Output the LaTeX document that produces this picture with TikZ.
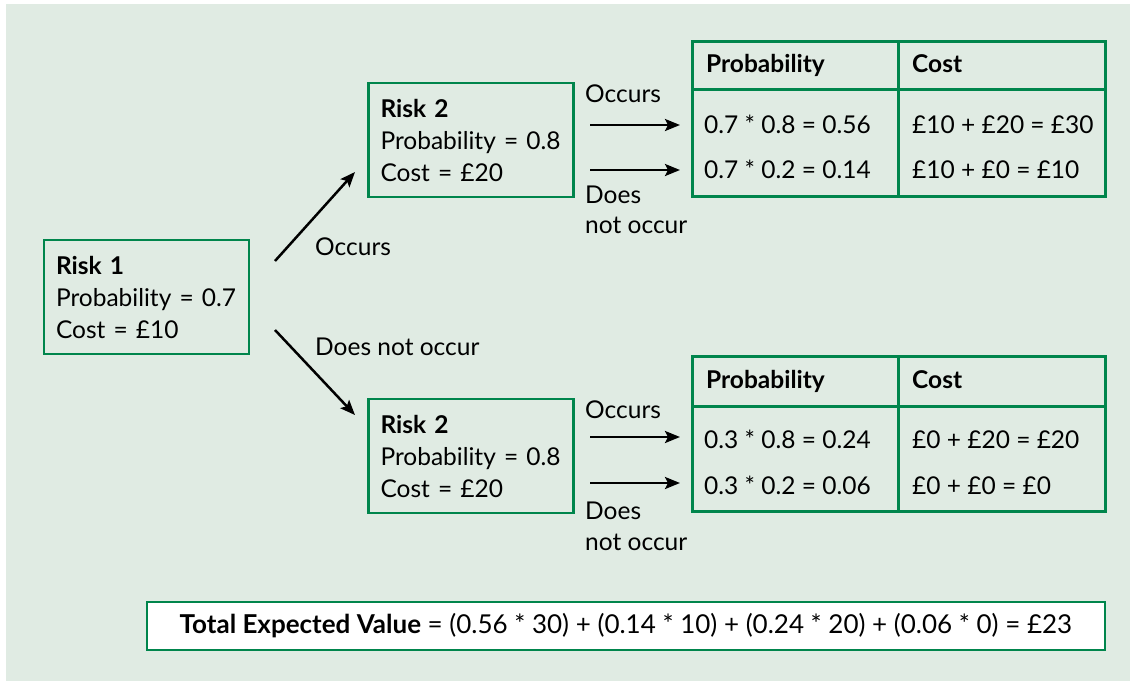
\documentclass[tikz,border=0pt]{standalone}
\usepackage{fontspec}
\setmainfont{Lato}
\usetikzlibrary{arrows.meta}
\definecolor{bgc}{RGB}{224,235,227}
\definecolor{grn}{RGB}{0,133,76}
\begin{document}
\begin{tikzpicture}[x=1pt,y=-1pt,
  txt/.style={font=\fontsize{24.5}{32}\selectfont, inner sep=0pt},
  riskbox/.style={draw=grn, line width=2.5pt, minimum width=205pt, minimum height=114pt,
    text width=181pt, inner xsep=12pt, inner ysep=0pt, align=left,
    font=\fontsize{24.5}{32}\selectfont},
  cell/.style={draw=grn, line width=2.5pt, inner sep=0pt, anchor=north west},
  arr/.style={line width=2.5pt, -{Stealth[length=15pt,width=12pt,inset=3pt]}},
  lbl/.style={txt, anchor=mid west}
]
\useasboundingbox (0,0) rectangle (1130,681);
\fill[bgc] (6,4) rectangle (1130,681);

% risk boxes
\node[riskbox] (r1) at (146.5,297) {\textbf{Risk 1}\\Probability = 0.7\\Cost = £10};
\node[riskbox] (r2a) at (471,140) {\textbf{Risk 2}\\Probability = 0.8\\Cost = £20};
\node[riskbox] (r2b) at (471,456) {\textbf{Risk 2}\\Probability = 0.8\\Cost = £20};

% main arrows
\coordinate (a1s) at (275,261); \coordinate (a1e) at (355,172);
\coordinate (a2s) at (275,330); \coordinate (a2e) at (355,415);
\draw[arr] (a1s) -- (a1e);
\draw[arr] (a2s) -- (a2e);
\node[lbl] (l1) at (315,253) {Occurs};
\node[lbl] (l2) at (315,353) {Does not occur};

% top table
\node[cell, minimum width=206pt, minimum height=48pt] (t1h1) at (691,40) {};
\node[cell, minimum width=207pt, minimum height=48pt] (t1h2) at (897,40) {};
\node[cell, minimum width=206pt, minimum height=107pt] (t1b1) at (691,88) {};
\node[cell, minimum width=207pt, minimum height=107pt] (t1b2) at (897,88) {};
\node[lbl] (t1p) at (706,70) {\textbf{Probability}};
\node[lbl] (t1c) at (912,70) {\textbf{Cost}};
\node[lbl] (t1r1a) at (704,131) {0.7 * 0.8 = 0.56};
\node[lbl] (t1r2a) at (704,176) {0.7 * 0.2 = 0.14};
\node[lbl] (t1r1b) at (912,131) {£10 + £20 = £30};
\node[lbl] (t1r2b) at (912,176) {£10 + £0 = £10};

% bottom table
\node[cell, minimum width=206pt, minimum height=50pt] (t2h1) at (691,355) {};
\node[cell, minimum width=207pt, minimum height=50pt] (t2h2) at (897,355) {};
\node[cell, minimum width=206pt, minimum height=105pt] (t2b1) at (691,405) {};
\node[cell, minimum width=207pt, minimum height=105pt] (t2b2) at (897,405) {};
\node[lbl] (t2p) at (706,386) {\textbf{Probability}};
\node[lbl] (t2c) at (912,386) {\textbf{Cost}};
\node[lbl] (t2r1a) at (704,446) {0.3 * 0.8 = 0.24};
\node[lbl] (t2r2a) at (704,492) {0.3 * 0.2 = 0.06};
\node[lbl] (t2r1b) at (912,446) {£0 + £20 = £20};
\node[lbl] (t2r2b) at (912,492) {£0 + £0 = £0};

% small arrows top
\coordinate (s1s) at (590,125); \coordinate (s1e) at (680,125);
\coordinate (s2s) at (590,170); \coordinate (s2e) at (680,170);
\draw[arr] (s1s) -- (s1e);
\draw[arr] (s2s) -- (s2e);
\node[lbl] (o1) at (585,100) {Occurs};
\node[lbl] (n1a) at (585,201) {Does};
\node[lbl] (n1b) at (585,231) {not occur};

% small arrows bottom
\coordinate (s3s) at (590,437); \coordinate (s3e) at (680,437);
\coordinate (s4s) at (590,483); \coordinate (s4e) at (680,483);
\draw[arr] (s3s) -- (s3e);
\draw[arr] (s4s) -- (s4e);
\node[lbl] (o2) at (585,416) {Occurs};
\node[lbl] (n2a) at (585,517) {Does};
\node[lbl] (n2b) at (585,548) {not occur};

% total
\node[draw=grn, fill=white, line width=2.5pt, minimum width=958pt, minimum height=48pt,
  inner sep=0pt, font=\fontsize{26}{30}\selectfont] (tot) at (626,626)
  {\textbf{Total Expected Value} = (0.56 * 30) + (0.14 * 10) + (0.24 * 20) + (0.06 * 0) = £23};
\end{tikzpicture}
\end{document}
